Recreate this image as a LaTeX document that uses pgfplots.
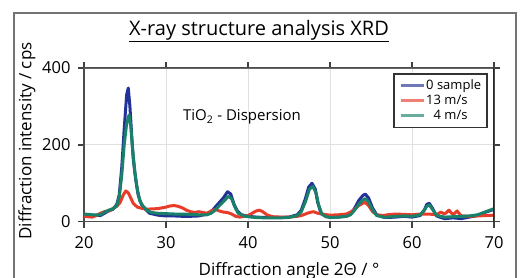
\documentclass[border=0pt]{standalone}
\usepackage{fontspec}
\setmainfont{Open Sans}
\usepackage{pgfplots}
\pgfplotsset{compat=1.18}
\definecolor{cblue}{RGB}{35,50,150}
\definecolor{cred}{RGB}{232,60,40}
\definecolor{cgreen}{RGB}{25,128,105}
\pgfplotstableread{
x y
20 18
21 17
22 16
22.5 22
23 28
23.5 32
24 45
24.3 70
24.6 140
24.9 240
25.2 330
25.4 348
25.6 300
25.8 230
26.0 165
26.3 110
26.6 70
27.0 45
27.5 32
28 22
29 17
30 15
31 15
32 14
33 14
34 15
35 20
35.5 25
36 38
36.5 50
37 62
37.5 78
37.9 72
38.3 45
38.7 28
39.2 18
40 14
41 12
42 11
43 11
44 11
45 12
46 18
46.5 30
47 60
47.4 90
47.8 100
48.2 85
48.5 50
48.9 22
49.5 14
50 12
51 12
52 14
52.5 20
53 35
53.5 55
54 68
54.3 72
54.7 62
55.2 35
55.7 18
56.5 12
57 11
58 12
59 14
60 12
61 16
61.5 30
61.8 45
62.1 48
62.5 35
63 15
63.5 11
64 8
65 10
66 8
67 12
68 16
69 25
70 32
}\blue
\pgfplotstableread{
x y
20 14
21 12
21.5 16
22 22
22.5 26
23 28
23.5 34
24 40
24.4 50
24.8 70
25.1 80
25.4 75
25.7 62
26.0 48
26.5 38
27 35
27.5 33
28 33
29 34
30 38
30.5 41
31 42
31.5 40
32 36
32.5 30
33 26
33.5 24
34 26
34.5 24
35 22
35.5 28
36 32
36.5 28
37 25
37.5 24
38 20
38.5 14
39 12
39.5 14
40 16
40.5 22
41 28
41.4 30
41.8 26
42.3 18
43 13
44 12
45 12
46 14
46.5 16
47 20
47.5 24
48 26
48.5 22
49 20
50 17
51 18
52 20
52.5 25
53 32
53.5 42
54 48
54.3 50
54.7 42
55.2 26
55.7 18
56.5 16
57 18
58 20
59 19
60 18
61 20
62 20
63 18
63.5 25
64 20
64.5 30
65 18
65.5 28
66 15
67 14
68 15
69 16
70 17
}\red
\pgfplotstableread{
x y
20 20
21 18
22 18
22.5 25
23 30
23.5 33
24 42
24.3 65
24.6 120
24.9 200
25.2 255
25.5 278
25.7 250
25.9 195
26.2 130
26.5 85
26.8 55
27.2 40
27.7 30
28.2 24
29 22
30 21
31 20
32 20
33 19
34 18
35 18
35.5 22
36 30
36.5 42
37 52
37.6 66
38 60
38.4 38
38.8 22
39.5 15
40 13
41 11
42 10
43 10
44 10
45 11
46 16
46.5 26
47 52
47.5 85
47.9 92
48.3 75
48.6 45
49 20
49.5 13
50 11
51 12
52 14
52.5 18
53 30
53.5 45
54 56
54.3 60
54.7 52
55.2 30
55.7 16
56.5 12
57 12
58 14
59 15
60 14
61 18
61.5 30
61.8 40
62.1 44
62.5 32
63 16
64 12
65 13
66 14
67 15
68 18
69 26
70 34
}\green
\begin{document}
\begin{tikzpicture}[x=1pt,y=1pt]
\path[use as bounding box] (0,0) rectangle (530,277);
\draw[black!55, line width=1.2pt] (14,-10) -- (14,264) -- (516,264) -- (516,-10);
\node[font=\fontsize{20}{23}\selectfont, anchor=base] at (259,242) {\underline{X-ray structure analysis XRD}};
\node[font=\fontsize{17}{20}\selectfont, rotate=90] at (27,136) {Diffraction intensity / cps};
\node[font=\fontsize{17}{20}\selectfont, anchor=base] at (289,2) {Diffraction angle 2Θ / °};
\begin{axis}[
  at={(84pt,55.3pt)}, anchor=south west, scale only axis,
  width=410pt, height=153.7pt,
  xmin=20, xmax=70, ymin=0, ymax=400,
  xtick={20,30,...,70}, ytick={0,200,400},
  tick align=outside, major tick length=6pt,
  tick style={black!75, line width=1.3pt},
  axis line style={black!70, line width=1.3pt},
  grid=major, major grid style={black!12, line width=0.8pt},
  ticklabel style={font=\fontsize{16.5}{18}\selectfont},
  xticklabel style={yshift=-5pt},
  yticklabel style={xshift=-4pt},
  /pgf/number format/assume math mode=true,
  legend style={at={(0.985,0.965)}, anchor=north east, draw=black!80, line width=1.5pt,
    font=\fontsize{13}{15}\selectfont, row sep=0.5pt, inner xsep=5pt, inner ysep=4.5pt,
    nodes={inner sep=1pt, text height=9.5pt, text depth=3pt}},
  legend cell align=left,
  legend image code/.code={\draw[#1, line width=3pt, opacity=0.65] (0pt,0pt) -- (23pt,0pt);},
  every axis plot/.append style={line width=3pt, line join=round},
]
\addplot[cblue, no marks] table[x=x,y=y] {\blue};
\addplot[cred, no marks] table[x=x,y=y] {\red};
\addplot[cgreen, no marks] table[x=x,y=y] {\green};
\legend{0 sample, 13 m/s, \phantom{1}4 m/s}
\draw[black!60, line width=2pt] (rel axis cs:0,1) -- (rel axis cs:1,1);
\draw[black!85, line width=3pt] (rel axis cs:1,0) -- (rel axis cs:1,1);
\end{axis}
\node[font=\fontsize{15}{17}\selectfont] at (242,160) {TiO\textsubscript{2} - Dispersion};
\end{tikzpicture}
\end{document}
